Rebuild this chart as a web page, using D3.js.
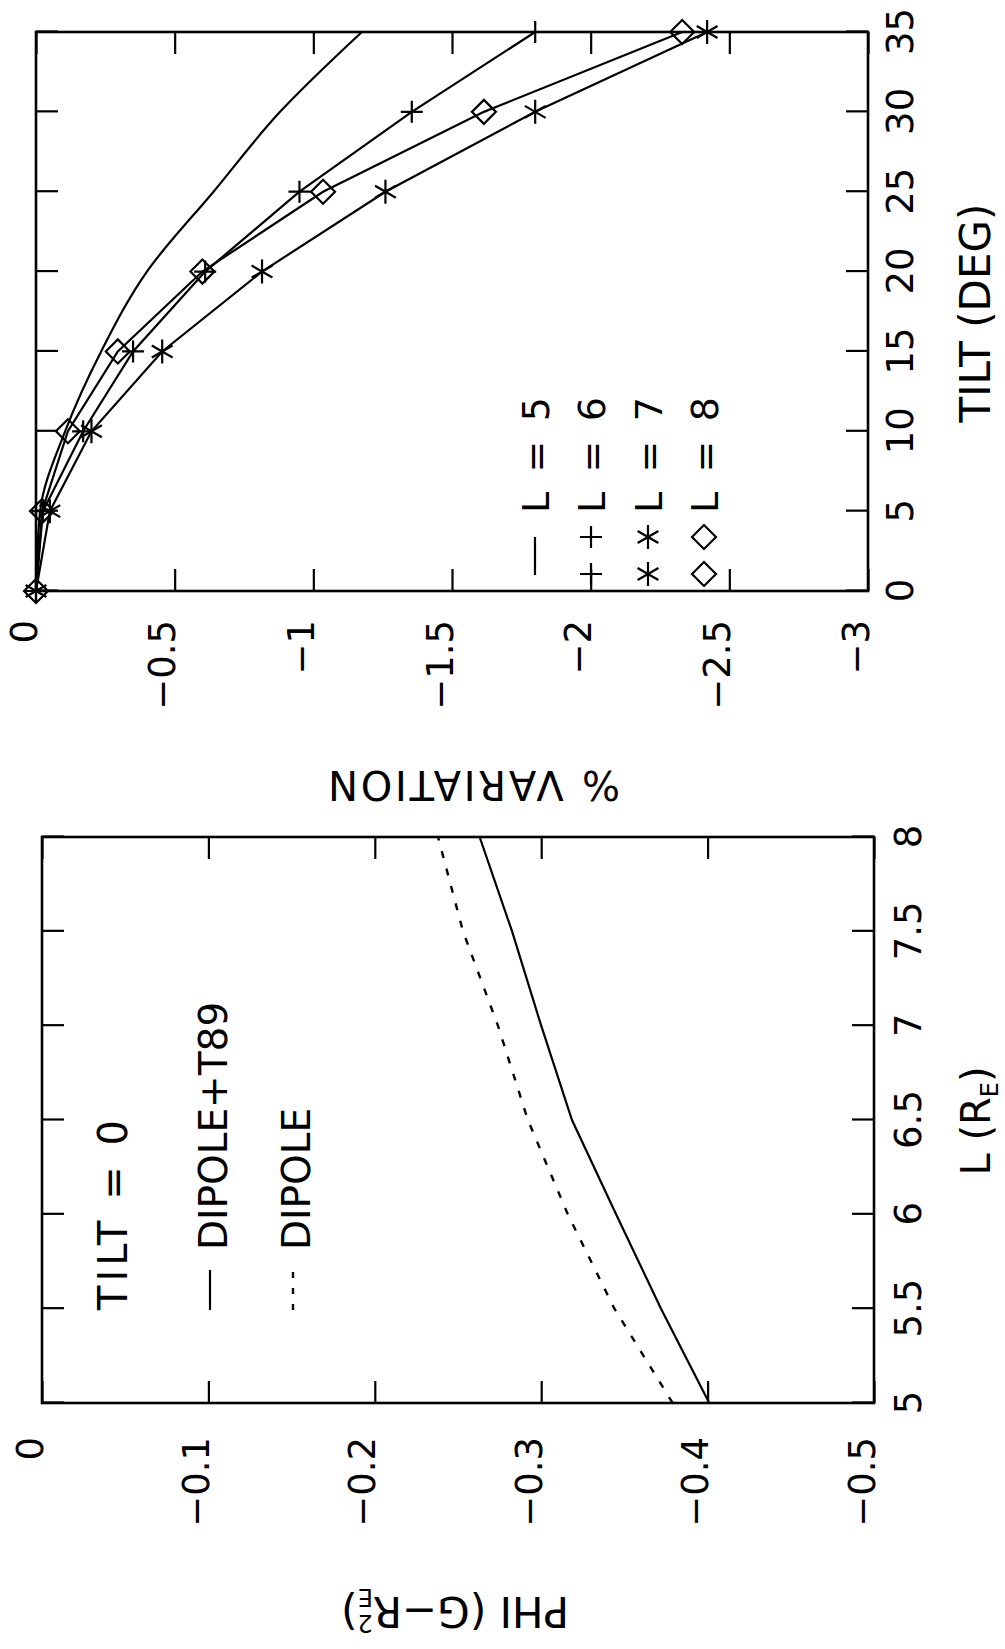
<!DOCTYPE html>
<html>
<head>
<meta charset="utf-8">
<script src="https://cdn.jsdelivr.net/npm/d3@7/dist/d3.min.js"></script>
<style>
  body { margin: 0; background: #fff; }
  svg { display: block; }
  text { font-family: "DejaVu Sans", sans-serif; fill: #000; }
</style>
</head>
<body>
<svg id="chart" width="1005" height="1649"></svg>
<script>
// left panel: flux vs L at zero tilt
var lValues = [5, 5.5, 6, 6.5, 7, 7.5, 8];
var phiDipoleT89 = [-0.401, -0.372, -0.345, -0.3185, -0.300, -0.2825, -0.263];
var phiDipole = [-0.379, -0.344, -0.316, -0.292, -0.274, -0.253, -0.238];
var lTicks = [5, 5.5, 6, 6.5, 7, 7.5, 8];
var phiTicks = [0, -0.1, -0.2, -0.3, -0.4, -0.5];

// right panel: % variation vs tilt
var tilt = [0, 5, 10, 15, 20, 25, 30, 35];
var varL5 = [0, -0.015, -0.105, -0.235, -0.40, -0.64, -0.88, -1.175];
var varL6 = [0, -0.025, -0.17, -0.35, -0.61, -0.95, -1.355, -1.80];
var varL7 = [0, -0.05, -0.20, -0.455, -0.815, -1.26, -1.80, -2.42];
var varL8 = [0, -0.022, -0.115, -0.295, -0.60, -1.035, -1.615, -2.33];
var tiltTicks = [0, 5, 10, 15, 20, 25, 30, 35];
var varTicks = [0, -0.5, -1, -1.5, -2, -2.5, -3];

var W = 1649; // landscape width (page height)

var svg = d3.select("#chart");
svg.append("rect").attr("width", 1005).attr("height", 1649).attr("fill", "#fff");

// the figure is drawn in landscape and turned a quarter turn
var root = svg.append("g").attr("transform", "translate(0," + W + ") rotate(-90)");

var fmt = d3.format("~g");

var xA = d3.scaleLinear().domain([5, 8]).range([246, 812]);
var yA = d3.scaleLinear().domain([0, -0.5]).range([42, 874]);
var xB = d3.scaleLinear().domain([0, 35]).range([1058, 1617]);
var yB = d3.scaleLinear().domain([0, -3]).range([36, 868]);

function drawFrame(g, x, y, xt, yt, xLabelY, yPad) {
  var x0 = x.range()[0], x1 = x.range()[1], y0 = y.range()[0], y1 = y.range()[1];

  var bottom = g.append("g").attr("transform", "translate(0," + y1 + ")")
    .call(d3.axisBottom(x).tickValues(xt).tickSizeInner(-22).tickSizeOuter(0).tickFormat(fmt));
  bottom.selectAll("text").attr("y", xLabelY).attr("dy", 0);

  g.append("g").attr("transform", "translate(0," + y0 + ")")
    .call(d3.axisTop(x).tickValues(xt).tickSizeInner(-22).tickSizeOuter(0).tickFormat(""));

  var left = g.append("g").attr("transform", "translate(" + x0 + ",0)")
    .call(d3.axisLeft(y).tickValues(yt).tickSizeInner(-22).tickSizeOuter(0).tickPadding(yPad).tickFormat(fmt));
  left.selectAll("text").attr("dy", 0);

  g.append("g").attr("transform", "translate(" + x1 + ",0)")
    .call(d3.axisRight(y).tickValues(yt).tickSizeInner(-22).tickSizeOuter(0).tickFormat(""));

  g.selectAll(".domain").remove();
  g.selectAll(".tick line").attr("stroke", "#000").attr("stroke-width", 2.2);
  g.selectAll(".tick text")
    .attr("font-family", "DejaVu Sans, sans-serif")
    .attr("font-size", 37)
    .attr("fill", "#000");

  g.append("rect")
    .attr("x", x0).attr("y", y0)
    .attr("width", x1 - x0).attr("height", y1 - y0)
    .attr("fill", "none").attr("stroke", "#000").attr("stroke-width", 2.6);
}

// ---- panel A
var gA = root.append("g");
drawFrame(gA, xA, yA, lTicks, phiTicks, 47, 34);

var lineA = d3.line().x(d => xA(d[0])).y(d => yA(d[1]));
gA.append("path").datum(d3.zip(lValues, phiDipoleT89))
  .attr("d", lineA).attr("fill", "none").attr("stroke", "#000").attr("stroke-width", 2.2);
gA.append("path").datum(d3.zip(lValues, phiDipole))
  .attr("d", lineA).attr("fill", "none").attr("stroke", "#000").attr("stroke-width", 2.4)
  .attr("stroke-dasharray", "7,11");

gA.append("text").attr("x", 339).attr("y", 127).attr("font-size", 40)
  .attr("textLength", 190).attr("lengthAdjust", "spacing").text("TILT = 0");
gA.append("line").attr("x1", 339).attr("x2", 379).attr("y1", 210).attr("y2", 210)
  .attr("stroke", "#000").attr("stroke-width", 2.2);
gA.append("text").attr("x", 399).attr("y", 227).attr("font-size", 39).text("DIPOLE+T89");
gA.append("line").attr("x1", 339).attr("x2", 377).attr("y1", 293).attr("y2", 293)
  .attr("stroke", "#000").attr("stroke-width", 2.4).attr("stroke-dasharray", "6,10");
gA.append("text").attr("x", 399).attr("y", 310).attr("font-size", 39).text("DIPOLE");

var lTitle = gA.append("text").attr("x", 528).attr("y", 990)
  .attr("text-anchor", "middle").attr("font-size", 40);
lTitle.append("tspan").text("L (R");
lTitle.append("tspan").attr("font-size", 24).attr("dy", 8).text("E");
lTitle.append("tspan").attr("dy", -8).text(")");

var phiTitle = gA.append("text").attr("transform", "translate(52,455) rotate(-90)")
  .attr("text-anchor", "middle").attr("font-size", 42);
phiTitle.append("tspan").text("PHI (G\u2212R");
phiTitle.append("tspan").attr("font-size", 24).attr("dy", 8).text("E");
phiTitle.append("tspan").attr("font-size", 24).attr("dx", -15).attr("dy", -26).text("2");
phiTitle.append("tspan").attr("dy", 18).text(")");

// ---- panel B
var gB = root.append("g");
drawFrame(gB, xB, yB, tiltTicks, varTicks, 45, 29);

function plus(r) { return "M" + (-r) + ",0H" + r + "M0," + (-r) + "V" + r; }
function star(r) {
  var a = r * Math.cos(Math.PI / 3), b = r * Math.sin(Math.PI / 3);
  return "M" + (-r) + ",0H" + r +
    "M" + (-a) + "," + (-b) + "L" + a + "," + b +
    "M" + (-a) + "," + b + "L" + a + "," + (-b);
}
function diamond(r) { return "M0," + (-r) + "L" + r + ",0L0," + r + "L" + (-r) + ",0Z"; }

var seriesB = [
  { label: "L = 5", values: varL5, mark: null, curve: d3.curveMonotoneX },
  { label: "L = 6", values: varL6, mark: plus(11), curve: d3.curveLinear },
  { label: "L = 7", values: varL7, mark: star(12), curve: d3.curveLinear },
  { label: "L = 8", values: varL8, mark: diamond(12), curve: d3.curveLinear }
];

seriesB.forEach(function(s) {
  var pts = d3.zip(tilt, s.values);
  var lineB = d3.line().x(d => xB(d[0])).y(d => yB(d[1])).curve(s.curve);
  gB.append("path").datum(pts).attr("d", lineB)
    .attr("fill", "none").attr("stroke", "#000").attr("stroke-width", 2.2);
  if (s.mark) {
    gB.selectAll(null).data(pts).join("path")
      .attr("transform", d => "translate(" + xB(d[0]) + "," + yB(d[1]) + ")")
      .attr("d", s.mark).attr("fill", "none").attr("stroke", "#000").attr("stroke-width", 2.2);
  }
});

// legend
var rowY = [535, 591, 648, 704];
seriesB.forEach(function(s, i) {
  var cy = rowY[i];
  if (s.mark) {
    [1075, 1112].forEach(function(cx) {
      gB.append("path").attr("transform", "translate(" + cx + "," + cy + ")")
        .attr("d", s.mark).attr("fill", "none").attr("stroke", "#000").attr("stroke-width", 2.2);
    });
  } else {
    gB.append("line").attr("x1", 1074).attr("x2", 1112).attr("y1", cy).attr("y2", cy)
      .attr("stroke", "#000").attr("stroke-width", 2.2);
  }
  gB.append("text").attr("x", 1136).attr("y", cy + 14).attr("font-size", 38)
    .attr("textLength", 116).attr("lengthAdjust", "spacing").text(s.label);
});

gB.append("text").attr("x", 1336).attr("y", 990)
  .attr("text-anchor", "middle").attr("font-size", 42).text("TILT (DEG)");

gB.append("text").attr("transform", "translate(878,474) rotate(-90)")
  .attr("text-anchor", "middle").attr("font-size", 40)
  .attr("textLength", 292).attr("lengthAdjust", "spacing").text("% VARIATION");
</script>
</body>
</html>
